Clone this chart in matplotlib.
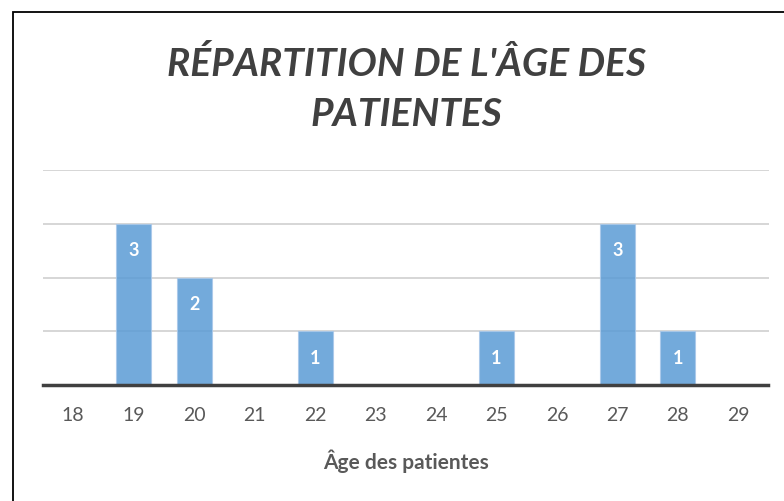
import matplotlib.pyplot as plt
from matplotlib.patches import Rectangle

# ages and counts
ages = ["18", "19", "20", "21", "22", "23", "24", "25", "26", "27", "28", "29"]
counts = [0, 3, 2, 0, 1, 0, 0, 1, 0, 3, 1, 0]

plt.rcParams["font.family"] = ["Lato", "DejaVu Sans"]

fig = plt.figure(figsize=(7.84, 5.01), dpi=100)
ax = fig.add_axes([43 / 784, 1 - 385 / 501, (768.5 - 43) / 784, (385 - 170) / 501])

x = list(range(len(ages)))
bars = ax.bar(x, counts, width=0.58, color="#5b9bd5", alpha=0.85, edgecolor="#a9c8ea", linewidth=0.8, zorder=3)
for xi, c in zip(x, counts):
    if c > 0:
        ax.text(xi, c - 0.5, str(c), ha="center", va="center", color="white",
                fontsize=13, fontweight="bold", zorder=4)

ax.set_xlim(-0.5, len(ages) - 0.5)
ax.set_ylim(0, 4)
ax.set_yticks([1, 2, 3, 4])
ax.yaxis.grid(True, color="#d0d0d0", linewidth=1.2, zorder=0)
ax.tick_params(axis="y", left=False, labelleft=False)
ax.set_xticks(x, ages)
ax.tick_params(axis="x", length=0, pad=16, labelsize=14, labelcolor="#595959")
for s in ["top", "right", "left"]:
    ax.spines[s].set_visible(False)
ax.spines["bottom"].set_color("#404040")
ax.spines["bottom"].set_linewidth(2.5)
ax.spines["bottom"].set_zorder(5)

ax.set_xlabel("Âge des patientes", fontsize=15, fontweight="bold", color="#595959", labelpad=18)

title_lines = ["RÉPARTITION DE L'ÂGE DES", "PATIENTES"]
for i, line in enumerate(title_lines):
    fig.text(0.518, 1 - (64 + 50 * i) / 501, line, ha="center", va="center",
             fontsize=28, fontweight="bold", fontstyle="italic", color="#404040")

# chart frame (only left and top edges visible in the crop)
fig.add_artist(Rectangle((13 / 784, -0.1), 1.0, 1 - 12 / 501 + 0.1, transform=fig.transFigure,
                         fill=False, edgecolor="black", linewidth=1.3))

fig.savefig("out.png", dpi=100)
